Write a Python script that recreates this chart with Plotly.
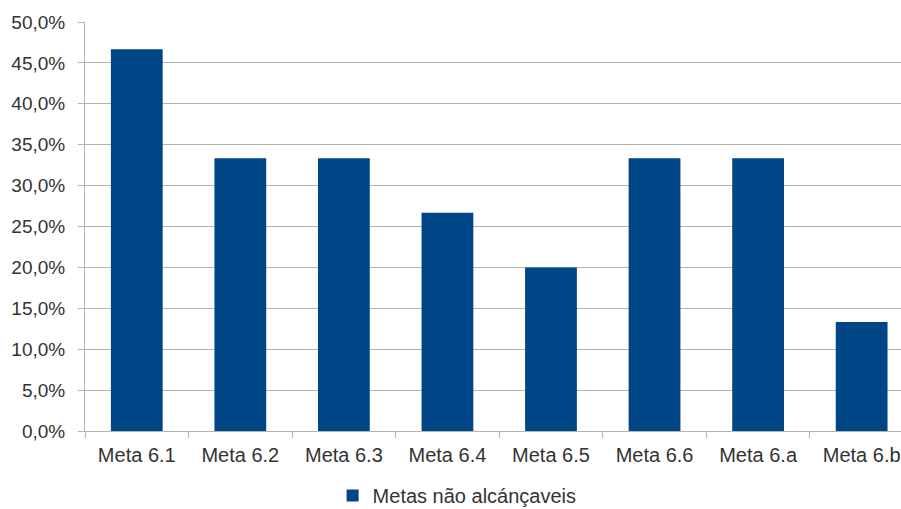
import plotly.graph_objects as go

categories = ["Meta 6.1", "Meta 6.2", "Meta 6.3", "Meta 6.4",
              "Meta 6.5", "Meta 6.6", "Meta 6.a", "Meta 6.b"]
nao_alcancaveis = [0.4667, 0.3333, 0.3333, 0.2667, 0.2000, 0.3333, 0.3333, 0.1333]
y_ticks = [i * 0.05 for i in range(11)]

fig = go.Figure()
fig.add_trace(go.Bar(
    x=categories,
    y=nao_alcancaveis,
    name="Metas não alcánçaveis",
    marker=dict(color="#004586", line=dict(width=0)),
    width=0.5,
))

grid = "#b3b3b3"
fig.update_layout(
    width=901, height=509,
    margin=dict(l=85, r=0, t=22, b=78, autoexpand=False),
    paper_bgcolor="white", plot_bgcolor="white",
    separators=",.",
    font=dict(family="Liberation Sans, Arial, sans-serif", size=19, color="#333333"),
    showlegend=True,
    legend=dict(orientation="h", x=0.456, xanchor="center", y=-0.158, yanchor="middle",
                font=dict(size=20, color="#333333"), itemwidth=30),
    xaxis=dict(
        type="category", range=[-0.5, 7.38], automargin=False,
        showline=True, linecolor=grid, linewidth=1,
        ticks="outside", tickson="boundaries", ticklen=6, tickcolor=grid,
        ticklabelstandoff=6, tickfont=dict(size=20),
        showgrid=False,
    ),
    yaxis=dict(
        range=[0, 0.5], tickvals=y_ticks, tickformat=".1%", automargin=False,
        showgrid=True, gridcolor=grid, gridwidth=1,
        showline=True, linecolor=grid, linewidth=1,
        ticks="outside", ticklen=6, tickcolor=grid,
        ticklabelstandoff=9,
        zeroline=False,
    ),
)

fig.write_html("out.html")
